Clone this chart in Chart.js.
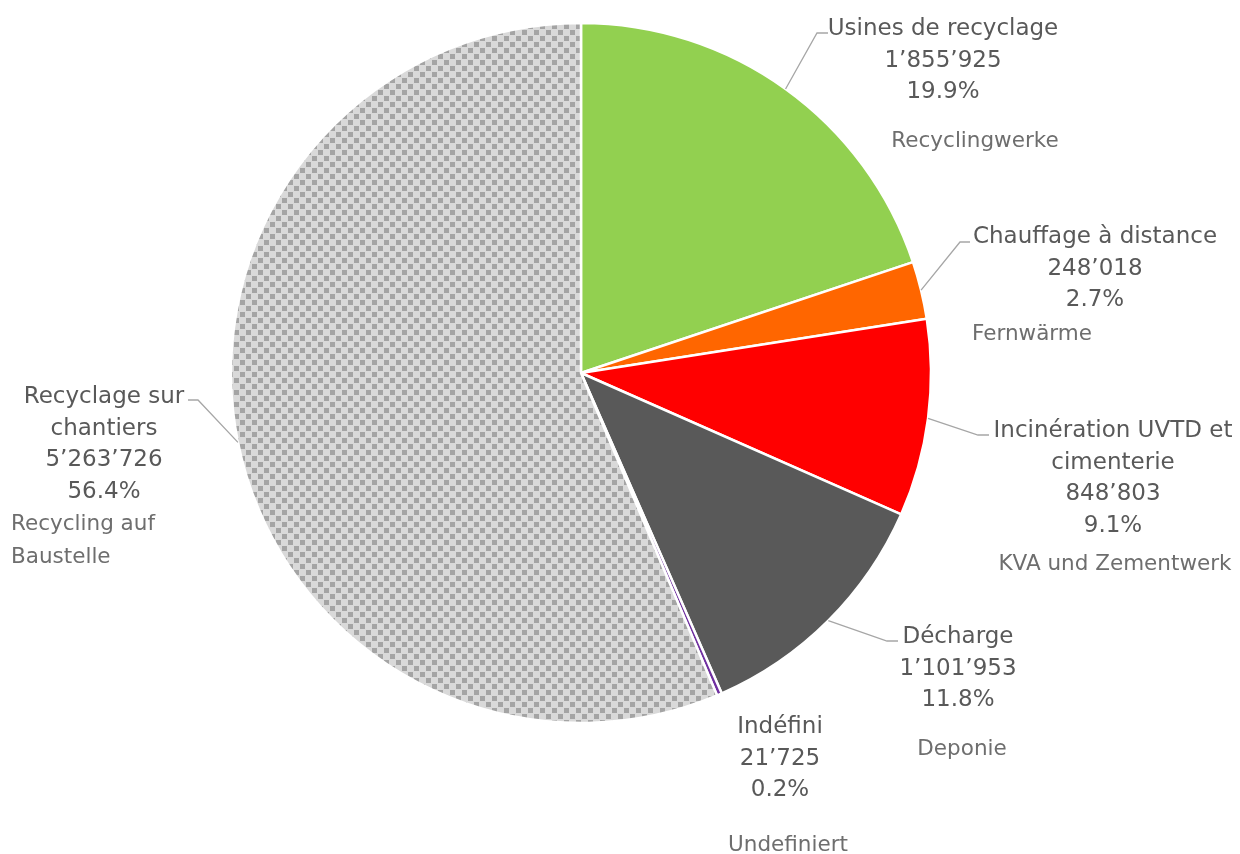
<!DOCTYPE html>
<html>
<head>
<meta charset="utf-8">
<script src="https://cdn.jsdelivr.net/npm/chart.js@4.4.1/dist/chart.umd.min.js"></script>
<style>
  html, body { margin: 0; padding: 0; background: #ffffff; }
  #wrap { width: 1240px; height: 854px; }
</style>
</head>
<body>
<div id="wrap"><canvas id="c" width="1240" height="854"></canvas></div>
<script>
// ---- data ----
const categories = [
  'Usines de recyclage',
  'Chauffage à distance',
  'Incinération UVTD et\ncimenterie',
  'Décharge',
  'Indéfini',
  'Recyclage sur\nchantiers'
];
const germanLabels = [
  'Recyclingwerke',
  'Fernwärme',
  'KVA und Zementwerk',
  'Deponie',
  'Undefiniert',
  'Recycling auf\nBaustelle'
];
const values = [1855925, 248018, 848803, 1101953, 21725, 5263726];

// ---- styles ----
function makePattern() {
  const t = document.createElement('canvas');
  t.width = 12; t.height = 12;
  const g = t.getContext('2d');
  g.fillStyle = '#d9d9d9';
  g.fillRect(0, 0, 12, 12);
  g.fillStyle = '#a4a4a4';
  g.fillRect(0, 0, 5, 5);
  g.fillRect(6, 6, 5, 5);
  return document.getElementById('c').getContext('2d').createPattern(t, 'repeat');
}
const colors = ['#92D050', '#FF6600', '#FF0000', '#595959', '#7030A0', makePattern()];

// label layout (positions only)
const layout = [
  { cx: 943, y: 35, elbow: [817, 33], end: [828, 33], gx: 975, gy: 147, galign: 'center' },
  { cx: 1095, y: 243, elbow: [960, 242], end: [970, 242], gx: 1032, gy: 340, galign: 'center' },
  { cx: 1113, y: 437, elbow: [978, 435], end: [989, 435], gx: 1115, gy: 570, galign: 'center' },
  { cx: 958, y: 643, elbow: [887, 641], end: [898, 641], gx: 962, gy: 755, galign: 'center' },
  { cx: 780, y: 733, elbow: null, end: null, gx: 788, gy: 851, galign: 'center' },
  { cx: 104, y: 403, elbow: [198, 400], end: [188, 400], gx: 11, gy: 530, galign: 'left' }
];

function fmt(v) {
  return String(v).replace(/\B(?=(\d{3})+(?!\d))/g, '\u2019');
}

const total = values.reduce((a, b) => a + b, 0);

const labelPlugin = {
  id: 'labels',
  afterDraw(chart) {
    const ctx = chart.ctx;
    const meta = chart.getDatasetMeta(0);
    ctx.save();
    meta.data.forEach((arc, i) => {
      const L = layout[i];
      if (L.elbow) {
        const mid = (arc.startAngle + arc.endAngle) / 2;
        const sx = arc.x + Math.cos(mid) * arc.outerRadius;
        const sy = arc.y + Math.sin(mid) * arc.outerRadius;
        ctx.beginPath();
        ctx.strokeStyle = '#a6a6a6';
        ctx.lineWidth = 1.3;
        ctx.moveTo(sx, sy);
        ctx.lineTo(L.elbow[0], L.elbow[1]);
        ctx.lineTo(L.end[0], L.end[1]);
        ctx.stroke();
      }
      const lines = categories[i].split('\n');
      lines.push(fmt(values[i]));
      lines.push((values[i] / total * 100).toFixed(1) + '%');
      ctx.font = '23px "DejaVu Sans", Verdana, sans-serif';
      ctx.fillStyle = '#595959';
      ctx.textAlign = 'center';
      ctx.textBaseline = 'alphabetic';
      lines.forEach((ln, k) => ctx.fillText(ln, L.cx, L.y + k * 31.5));
      ctx.font = '21.5px "DejaVu Sans", Verdana, sans-serif';
      ctx.fillStyle = '#6e6e6e';
      ctx.textAlign = L.galign;
      germanLabels[i].split('\n').forEach((ln, k) => ctx.fillText(ln, L.gx, L.gy + k * 33));
    });
    ctx.restore();
  }
};

new Chart(document.getElementById('c'), {
  type: 'pie',
  data: {
    labels: categories,
    datasets: [{
      data: values,
      backgroundColor: colors,
      borderColor: '#ffffff',
      borderWidth: 2.5
    }]
  },
  options: {
    responsive: false,
    animation: false,
    radius: 350,
    layout: { padding: { left: 231, right: 309, top: 23, bottom: 131 } },
    plugins: {
      legend: { display: false },
      tooltip: { enabled: false }
    }
  },
  plugins: [labelPlugin]
});
</script>
</body>
</html>
